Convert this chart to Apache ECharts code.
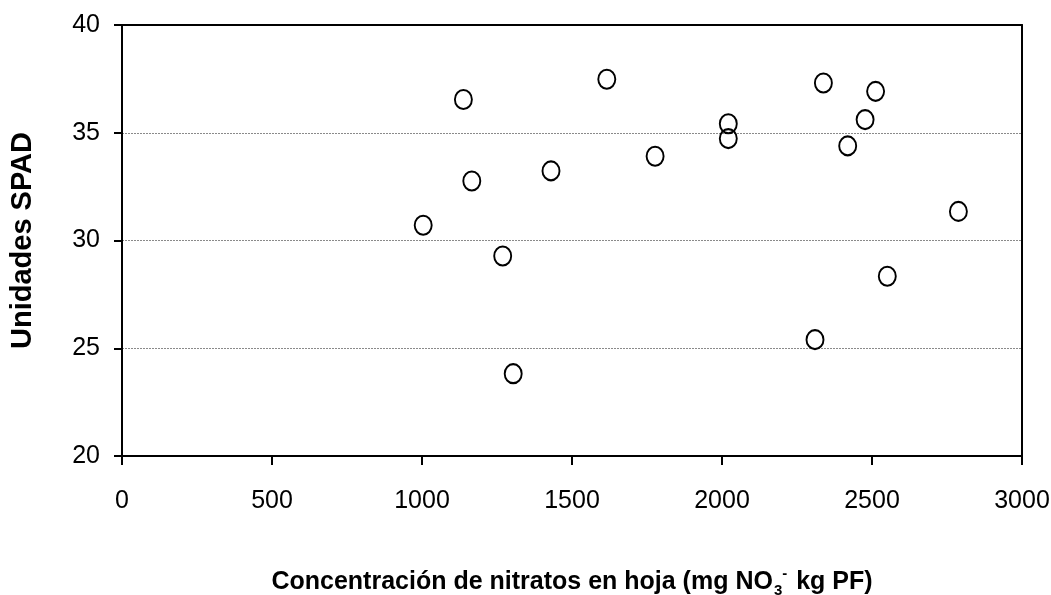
<!DOCTYPE html>
<html>
<head>
<meta charset="utf-8">
<script src="https://cdn.jsdelivr.net/npm/echarts@6/dist/echarts.min.js"></script>
<style>html,body{margin:0;padding:0;background:#fff;}#c{width:1051px;height:595px;}</style>
</head>
<body>
<div id="c"></div>
<script>
const nitrate = [1004, 1138, 1166, 1269, 1304, 1430, 1616, 1777, 2021, 2021, 2310, 2338, 2419, 2477, 2512, 2551, 2788];
const spad    = [30.71, 36.54, 32.76, 29.28, 23.82, 33.23, 37.48, 33.91, 35.42, 34.73, 25.40, 37.31, 34.39, 35.61, 36.92, 28.34, 31.35];
const xTicks = [0, 500, 1000, 1500, 2000, 2500, 3000];
const yTicks = [20, 25, 30, 35, 40];

const points = nitrate.map((x, i) => [x, spad[i]]);
const sans = '"Liberation Sans", Arial, sans-serif';
const chart = echarts.init(document.getElementById('c'), null, {renderer: 'canvas'});
chart.setOption({
  animation: false,
  backgroundColor: '#fff',
  grid: {left: 122, right: 29, top: 25, bottom: 139, containLabel: false, outerBoundsMode: 'none'},
  xAxis: [{
    type: 'value', min: xTicks[0], max: xTicks[xTicks.length - 1], interval: 500,
    axisLine: {show: true, onZero: false, lineStyle: {color: '#000', width: 2}},
    axisTick: {show: true, length: 9, lineStyle: {color: '#000', width: 2}},
    axisLabel: {color: '#000', fontFamily: sans, fontSize: 25, margin: 33, formatter: v => String(v)},
    splitLine: {show: false},
    name: '{a|Concentración de nitratos en hoja (mg NO}{sub|3}{sup|-}{a| kg PF)}',
    nameLocation: 'middle', nameGap: 110,
    nameTextStyle: {
      rich: {
        a: {fontFamily: sans, fontWeight: 'bold', fontSize: 25, color: '#000', lineHeight: 32},
        sub: {fontFamily: sans, fontWeight: 'bold', fontSize: 15, color: '#000', lineHeight: 15, verticalAlign: 'bottom', padding: [0, 0, 0, 1]},
        sup: {fontFamily: sans, fontWeight: 'bold', fontSize: 15, color: '#000', lineHeight: 15, verticalAlign: 'top', padding: [0, 2, 0, 0]}
      }
    }
  }, {
    type: 'value', position: 'top', min: xTicks[0], max: xTicks[xTicks.length - 1],
    axisLine: {show: true, onZero: false, lineStyle: {color: '#000', width: 2}},
    axisTick: {show: false}, axisLabel: {show: false}, splitLine: {show: false}
  }],
  yAxis: [{
    type: 'value', min: yTicks[0], max: yTicks[yTicks.length - 1], interval: 5,
    axisLine: {show: true, onZero: false, lineStyle: {color: '#000', width: 2}},
    axisTick: {show: true, length: 8, lineStyle: {color: '#000', width: 2}},
    axisLabel: {color: '#000', fontFamily: sans, fontSize: 25, margin: 22},
    splitLine: {show: true, lineStyle: {color: '#8a8a8a', width: 1, type: [2, 1]}},
    name: 'Unidades SPAD', nameLocation: 'middle', nameGap: 85,
    nameTextStyle: {fontFamily: sans, fontWeight: 'bold', fontSize: 29, color: '#000'}
  }, {
    type: 'value', position: 'right', min: yTicks[0], max: yTicks[yTicks.length - 1],
    axisLine: {show: true, onZero: false, lineStyle: {color: '#000', width: 2}},
    axisTick: {show: false}, axisLabel: {show: false}, splitLine: {show: false}
  }],
  series: [{
    type: 'scatter', xAxisIndex: 0, yAxisIndex: 0,
    data: points,
    symbol: 'circle', symbolSize: [17, 19],
    itemStyle: {color: 'rgba(0,0,0,0)', borderColor: '#000', borderWidth: 2, opacity: 1}
  }]
});
</script>
</body>
</html>
